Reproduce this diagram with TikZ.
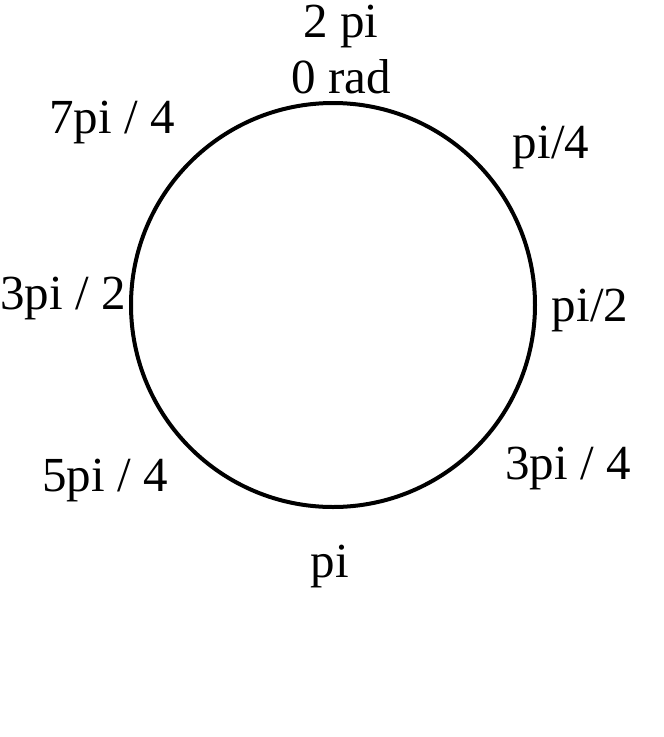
\documentclass[tikz,border=0pt]{standalone}
\usepackage{fontspec}
\setmainfont{Liberation Serif}
\usetikzlibrary{positioning}
\tikzset{
  radlabel/.style={anchor=base,inner sep=0pt,font=\fontsize{49}{58}\selectfont},
  radring/.style={draw,circle,line width=4pt,minimum size=404pt,inner sep=0pt},
}
\begin{document}
\begin{tikzpicture}[x=1pt,y=-1pt]
\useasboundingbox (0,0) rectangle (664,737);
\node[radring] (ring) at (333,305) {};
% angle labels round the ring
\node[radlabel] (twopi) at (341,37) {2 pi};
\node[radlabel] (zerorad) at (341,93) {0 rad};
\node[radlabel] (pifour) at (551,158) {pi/4};
\node[radlabel] (pitwo) at (590,321) {pi/2};
\node[radlabel] (threepifour) at (568,479) {3pi / 4};
\node[radlabel] (pi) at (330,577) {pi};
\node[radlabel] (fivepifour) at (105,491) {5pi / 4};
\node[radlabel] (threepitwo) at (63,309) {3pi / 2};
\node[radlabel] (sevenpifour) at (112,133) {7pi / 4};
\end{tikzpicture}
\end{document}
